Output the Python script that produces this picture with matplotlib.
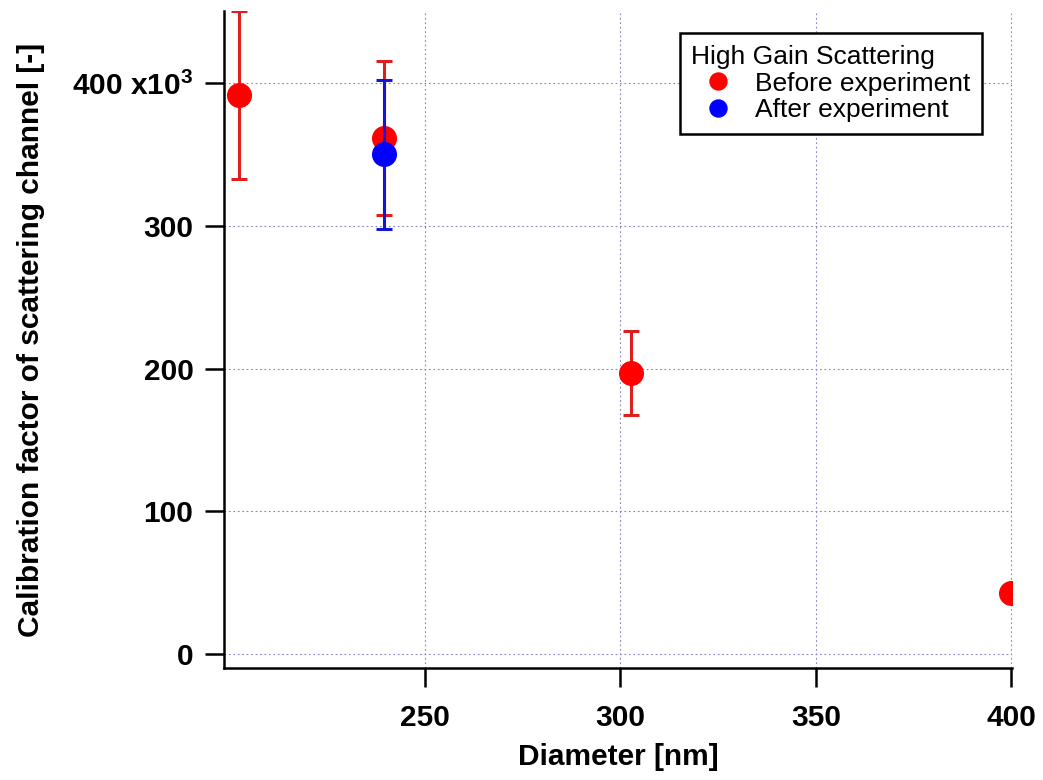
import matplotlib.pyplot as plt
import matplotlib.ticker as ticker

plt.rcParams['font.family'] = ['Liberation Sans', 'DejaVu Sans']

# calibration data (factor in units of 1e3)
diam_before = [202.5, 239.6, 302.8, 400.0]
cal_before = [391.7, 361.4, 197.1, 43.0]
err_before = [59.0, 54.0, 29.3, 4.0]

diam_after = [239.6]
cal_after = [350.2]
err_after = [52.3]

fig = plt.figure(figsize=(10.43, 7.80), dpi=100)
ax = fig.add_axes([0.2148, 0.1436, 0.7555, 0.8423])

ax.errorbar(diam_before, cal_before, yerr=err_before, fmt='none',
            ecolor='#dd1f1f', elinewidth=2.2, capsize=5.8, capthick=2.2, zorder=3)
ax.plot(diam_before, cal_before, 'o', color='#ff0000', markersize=17,
        label='Before experiment', zorder=4)
ax.errorbar(diam_after, cal_after, yerr=err_after, fmt='none',
            ecolor='#1515d5', elinewidth=2.2, capsize=5.8, capthick=2.2, zorder=5)
ax.plot(diam_after, cal_after, 'o', color='#0000ff', markersize=17,
        label='After experiment', zorder=6)

ax.set_xlim(198.6, 400.2)
ax.set_ylim(-9.8, 450.6)
ax.set_xticks([250, 300, 350, 400])
ax.set_yticks([0, 100, 200, 300, 400])
ax.yaxis.set_major_formatter(ticker.FuncFormatter(
    lambda v, pos: r'400 x10$^{\mathregular{3}}$' if v == 400 else f'{v:.0f}'))

for side in ['top', 'right']:
    ax.spines[side].set_visible(False)
for side in ['left', 'bottom']:
    ax.spines[side].set_linewidth(1.8)

ax.tick_params(direction='out', length=14, width=1.8, labelsize=21.5)
ax.tick_params(axis='x', pad=12)
ax.tick_params(axis='y', pad=8)
for lbl in ax.get_xticklabels() + ax.get_yticklabels():
    lbl.set_fontweight('bold')

ax.grid(True, linestyle=(0, (1.5, 2.5)), color='#8080c8', linewidth=0.8)
ax.set_axisbelow(True)

ax.set_xlabel('Diameter [nm]', fontsize=21.5, fontweight='bold', labelpad=8)
ax.set_ylabel('Calibration factor of scattering channel [-]', fontsize=21.5,
              fontweight='bold', labelpad=20)

leg = ax.legend(title='High Gain Scattering', loc='upper right',
                bbox_to_anchor=(0.962, 0.9665), borderaxespad=0,
                fontsize=19, title_fontsize=19,
                frameon=True, fancybox=False, framealpha=1, edgecolor='black',
                borderpad=0.45, handletextpad=0.4, labelspacing=0.1,
                handlelength=2.0, markerscale=0.72)
leg._legend_box.align = 'left'
leg.get_frame().set_linewidth(1.8)

fig.savefig('out.png', dpi=100)
